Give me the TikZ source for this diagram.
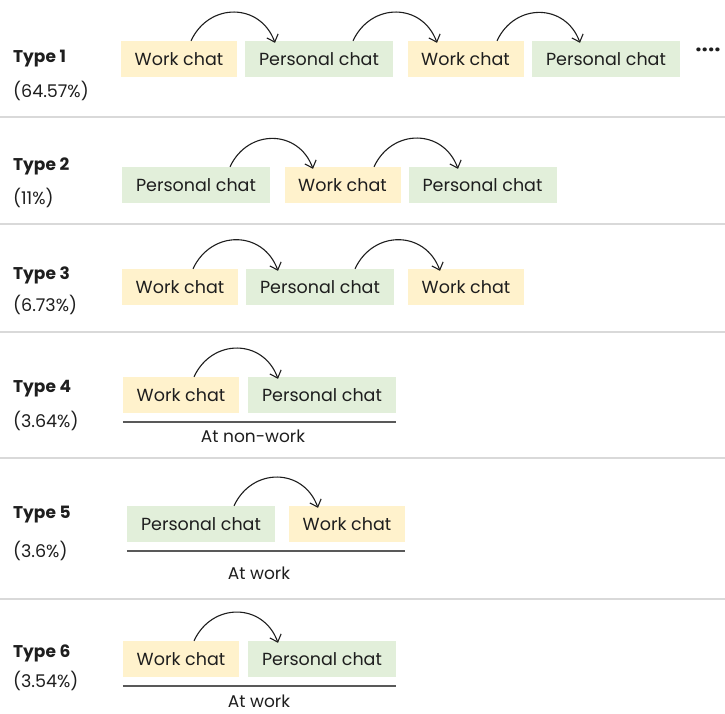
\documentclass[tikz,border=0pt]{standalone}
\usepackage{fontspec}
\setmainfont{Poppins}
\usetikzlibrary{arrows.meta}
\definecolor{workfill}{HTML}{FFF2CC}
\definecolor{personalfill}{HTML}{E2EFDA}
\definecolor{rule}{HTML}{D9D9D9}
\definecolor{ink}{HTML}{1E1E1E}
\definecolor{baseline}{HTML}{595959}
\tikzset{
  chatbox/.style={minimum height=36pt, inner sep=0pt, text=ink, font=\fontsize{17.5}{20}\selectfont},
  work/.style={chatbox, fill=workfill, minimum width=116pt},
  personal/.style={chatbox, fill=personalfill, minimum width=148pt},
  typelabel/.style={anchor=west, inner sep=0pt, text=ink, font=\fontsize{17}{20}\selectfont\bfseries},
  share/.style={anchor=west, inner sep=0pt, text=ink, font=\fontsize{17.5}{20}\selectfont},
  placelabel/.style={anchor=base, inner sep=0pt, text=ink, font=\fontsize{17}{20}\selectfont},
  hop/.style={draw=ink, line width=1.1pt, -{Straight Barb[length=6.5pt,width=12pt,line width=1.1pt]},
              out=65, in=110, looseness=1.3},
  divider/.style={draw=rule, line width=1.3pt},
  underline/.style={draw=baseline, line width=1.5pt},
}
\begin{document}
\begin{tikzpicture}[x=1pt, y=-1pt]
\useasboundingbox (0,0) rectangle (725,714);

% section dividers
\coordinate (d1l) at (0,117); \coordinate (d1r) at (725,117);
\coordinate (d2l) at (0,224); \coordinate (d2r) at (725,224);
\coordinate (d3l) at (0,332); \coordinate (d3r) at (725,332);
\coordinate (d4l) at (0,458); \coordinate (d4r) at (725,458);
\coordinate (d5l) at (0,599); \coordinate (d5r) at (725,599);
\foreach \i in {1,...,5} \draw[divider] (d\i l) -- (d\i r);

% ---- Type 1 ----
\node[typelabel] (t1) at (13,59) {Type 1};
\node[share] (s1) at (13,91) {(64.57\%)};
\node[work] (a1) at (179,59) {Work chat};
\node[personal] (a2) at (319,59) {Personal chat};
\node[work] (a3) at (465.5,59) {Work chat};
\node[personal] (a4) at (606,59) {Personal chat};
\node[inner sep=0pt, text=ink, font=\fontsize{21}{24}\selectfont\bfseries] (more) at (708,52) {····};
\draw[hop] ([xshift=12pt]a1.north) to ([xshift=-44pt,yshift=-2pt]a2.north);
\draw[hop] ([xshift=34pt]a2.north) to ([xshift=-28.5pt,yshift=-2pt]a3.north);
\draw[hop] ([xshift=31.5pt]a3.north) to ([xshift=-26pt,yshift=-2pt]a4.north);

% ---- Type 2 ----
\node[typelabel] (t2) at (13,166) {Type 2};
\node[share] (s2) at (13,198) {(11\%)};
\node[personal] (b1) at (196,185) {Personal chat};
\node[work] (b2) at (342.5,185) {Work chat};
\node[personal] (b3) at (482.5,185) {Personal chat};
\draw[hop] ([xshift=34pt]b1.north) to ([xshift=-29.5pt,yshift=-2pt]b2.north);
\draw[hop] ([xshift=31.5pt]b2.north) to ([xshift=-24.5pt,yshift=-2pt]b3.north);

% ---- Type 3 ----
\node[typelabel] (t3) at (13,275) {Type 3};
\node[share] (s3) at (13,305) {(6.73\%)};
\node[work] (c1) at (180,287) {Work chat};
\node[personal] (c2) at (320,287) {Personal chat};
\node[work] (c3) at (466,287) {Work chat};
\draw[hop] ([xshift=13pt]c1.north) to ([xshift=-42pt,yshift=-2pt]c2.north);
\draw[hop] ([xshift=35pt]c2.north) to ([xshift=-26pt,yshift=-2pt]c3.north);

% ---- Type 4 ----
\node[typelabel] (t4) at (13,389) {Type 4};
\node[share] (s4) at (13,421) {(3.64\%)};
\node[work] (e1) at (181,395) {Work chat};
\node[personal] (e2) at (322,395) {Personal chat};
\draw[hop] ([xshift=13pt]e1.north) to ([xshift=-44pt,yshift=-2pt]e2.north);
\draw[underline] ([yshift=-9pt]e1.south west) -- ([yshift=-9pt]e2.south east);
\node[placelabel] (p4) at (253,442) {At non-work};

% ---- Type 5 ----
\node[typelabel] (t5) at (13,515) {Type 5};
\node[share] (s5) at (13,551) {(3.6\%)};
\node[personal] (f1) at (201,524) {Personal chat};
\node[work] (f2) at (347,524) {Work chat};
\draw[hop] ([xshift=33pt]f1.north) to ([xshift=-29pt,yshift=-2pt]f2.north);
\draw[underline] ([yshift=-9pt]f1.south west) -- ([yshift=-9pt]f2.south east);
\node[placelabel] (p5) at (259,579) {At work};

% ---- Type 6 ----
\node[typelabel] (t6) at (13,653) {Type 6};
\node[share] (s6) at (13,681) {(3.54\%)};
\node[work] (g1) at (181,659) {Work chat};
\node[personal] (g2) at (322,659) {Personal chat};
\draw[hop] ([xshift=13pt]g1.north) to ([xshift=-44pt,yshift=-2pt]g2.north);
\draw[underline] ([yshift=-9pt]g1.south west) -- ([yshift=-9pt]g2.south east);
\node[placelabel] (p6) at (259,707) {At work};
\end{tikzpicture}
\end{document}
